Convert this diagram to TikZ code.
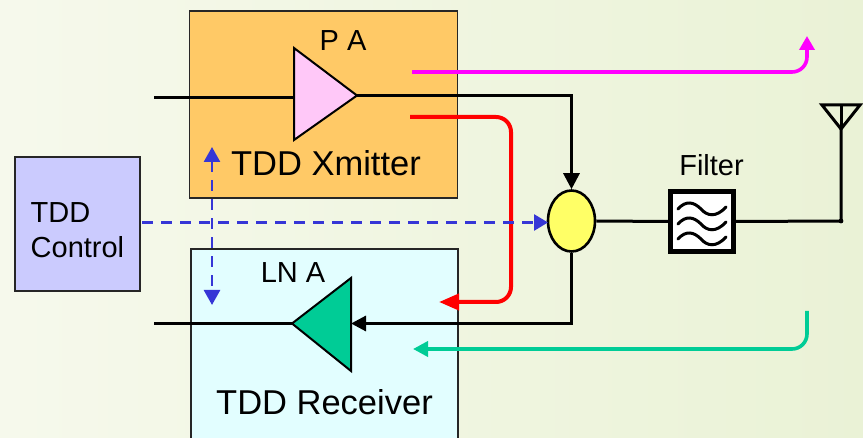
\documentclass[tikz,border=0pt]{standalone}
\usepackage{fontspec}
\setmainfont{Liberation Sans}
\usetikzlibrary{arrows.meta,shapes.geometric}
\definecolor{bgl}{HTML}{F6F9EC}
\definecolor{bgr}{HTML}{EAF2D6}
\definecolor{xmit}{HTML}{FFC966}
\definecolor{recv}{HTML}{E2FEFF}
\definecolor{ctrl}{HTML}{CBCBFE}
\definecolor{pafill}{HTML}{FFC8F8}
\definecolor{lnafill}{HTML}{00CC96}
\definecolor{sw}{HTML}{FFFF66}
\definecolor{bluec}{HTML}{3636D6}
\definecolor{magc}{HTML}{FF00FF}
\definecolor{greenc}{HTML}{00CC96}
\tikzset{
  x=1pt,y=-1pt,
  blockbox/.style={draw=black!85,line width=1.8pt,minimum width=#1,inner sep=0pt,anchor=north west},
  lab/.style={inner sep=0pt,font=\fontsize{29}{32}\selectfont,text=black},
  biglab/.style={inner sep=0pt,font=\fontsize{34.5}{38}\selectfont,text=black},
  wire/.style={draw=black,line width=3pt},
  flow/.style={line width=3.6pt,rounded corners=15pt},
  ctl/.style={draw=bluec,line width=2.6pt,dash pattern=on 11pt off 8pt},
  wave/.style={draw=black,line width=3pt,line cap=round},
}
\begin{document}
\begin{tikzpicture}
\useasboundingbox (0,0) rectangle (863,438);
\shade[left color=bgl,right color=bgr] (0,0) rectangle (863,438);
% blocks
\node[blockbox=268pt,minimum height=187pt,fill=xmit] (xm) at (188.5,10) {};
\begin{scope}
\clip (0,0) rectangle (863,438);
\node[blockbox=267pt,minimum height=200pt,fill=recv] (rx) at (190,248) {};
\end{scope}
\node[blockbox=125pt,minimum height=134pt,fill=ctrl] (ctl) at (14,156) {};
% labels
\node[biglab] (xmlab) at (326,163.5) {TDD Xmitter};
\node[biglab] (rxlab) at (324.5,402.5) {TDD Receiver};
\node[lab] (pal) at (343,41) {P A};
\node[lab] (lnal) at (293,273) {LN A};
\node[lab,anchor=west] (c1) at (30.5,212.5) {TDD};
\node[lab,anchor=west] (c2) at (30.5,247.5) {Control};
\node[lab] (fl) at (711.5,165) {Filter};
% named points
\coordinate (pain) at (154,98);
\coordinate (lnaout) at (154,323.5);
\coordinate (patip) at (357,95.5);
\coordinate (patop) at (294,48);
\coordinate (pabot) at (294,140);
\coordinate (lnatip) at (292,323.5);
\coordinate (lnatop) at (351,278);
\coordinate (lnabot) at (351,371);
\coordinate (antfoot) at (841,221);
\coordinate (anttip) at (841,129);
\coordinate (anttop) at (841,105);
\coordinate (antl) at (822,105);
\coordinate (antr) at (860,105);
% coupler and filter
\node[draw=black,line width=2.6pt,fill=sw,ellipse,minimum width=47pt,minimum height=61pt,inner sep=0pt] (cp) at (571.5,221) {};
\node[draw=black,line width=4.2pt,fill=white,minimum width=63pt,minimum height=60pt,inner sep=0pt] (flt) at (702,221.5) {};
% wires
\draw[wire] (pain) -- (pain -| patop);
\draw[wire] (lnaout) -- (lnatip);
\draw[wire,-{Triangle[length=16pt,width=16pt]}] (patip) -| (cp.north);
\draw[wire,-{Triangle[length=15pt,width=15pt]}] (cp.south) |- (lnatop |- lnatip);
\draw[wire] (cp.east) -- (flt.west);
\draw[wire] (flt.east) -- (antfoot) -- (anttip);
\fill (antfoot) circle (2.4pt);
% antenna
\draw[wire,line join=miter] (antl) -- (antr) -- (anttip) -- cycle;
\draw[wire] (anttop) -- (anttip);
% amplifiers
\draw[draw=black,line width=2pt,fill=pafill,line join=miter] (patop) -- (patip) -- (pabot) -- cycle;
\draw[draw=black,line width=2pt,fill=lnafill,line join=miter] (lnatip) -- (lnatop) -- (lnabot) -- cycle;
% filter waves
\begin{scope}[shift={(702,225)}]
\foreach \dy in {-15,0,15}{
  \draw[wave] (-24,\dy-1) .. controls (-16,\dy-10) and (-8,\dy-8) .. (-1,\dy-1) .. controls (5,\dy+6) and (14,\dy+8) .. (24,\dy-3);
}
\end{scope}
% coloured flows
\coordinate (ms) at (412,72);
\coordinate (me) at (807,36);
\coordinate (rs) at (410,117);
\coordinate (rc1) at (511,117);
\coordinate (rc2) at (511,302);
\coordinate (re) at (439,302);
\coordinate (gs) at (807,311);
\coordinate (ge) at (413,349);
\draw[flow,draw=magc,-{Triangle[length=14pt,width=15pt,fill=magc]}] (ms) -| (me);
\draw[flow,draw=red,line width=4pt,-{Triangle[length=20pt,width=16pt,fill=red]}] (rs) -- (rc1) -- (rc2) -- (re);
\draw[flow,draw=greenc,-{Triangle[length=15pt,width=15pt,fill=greenc]}] (gs) |- (ge);
% control
\coordinate (vt) at (212,147);
\coordinate (vb) at (212,305);
\coordinate (cs) at (142,222.5);
\coordinate (ce) at (548,222.5);
\draw[ctl,-{Triangle[length=14pt,width=16pt,fill=bluec]}] (cs) -- (ce);
\draw[ctl,{Triangle[length=15pt,width=16pt,fill=bluec]}-{Triangle[length=15pt,width=16pt,fill=bluec]}] (vt) -- (vb);
\end{tikzpicture}
\end{document}
